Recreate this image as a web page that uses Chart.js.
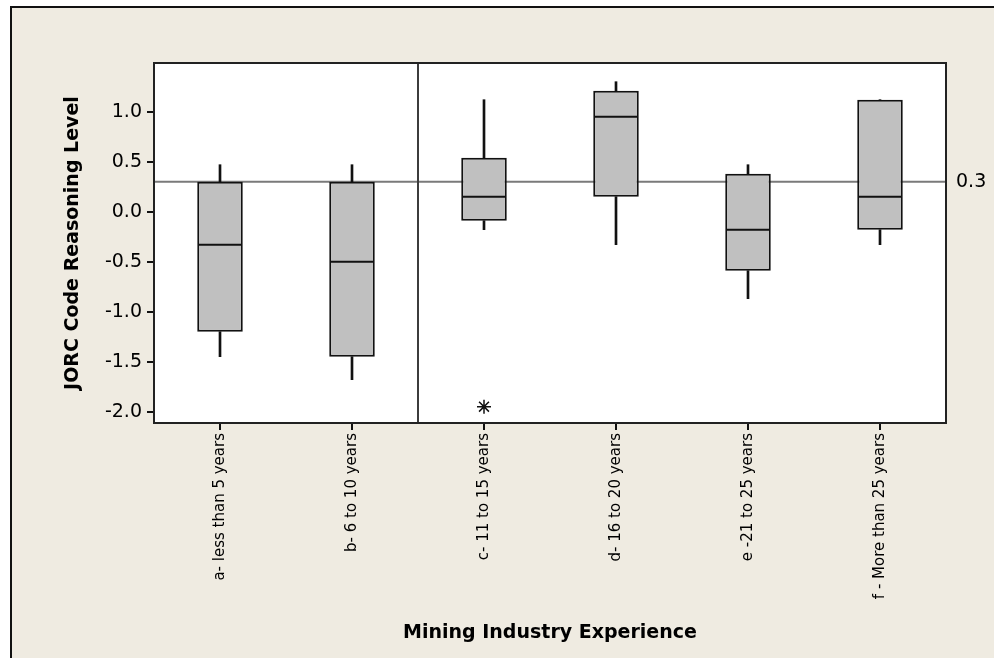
<!DOCTYPE html>
<html>
<head>
<meta charset="utf-8">
<script src="https://cdn.jsdelivr.net/npm/chart.js@4"></script>
<style>
  html, body { margin: 0; padding: 0; background: #ffffff; }
  #frame { position: absolute; left: 10px; top: 6px; width: 984px; height: 652px;
           background: #EFEBE1; border-top: 2px solid #111; border-left: 2px solid #111; box-sizing: border-box; }
  #wrap { position: absolute; left: 0; top: 0; width: 994px; height: 658px; }
</style>
</head>
<body>
<div id="frame"></div>
<div id="wrap"><canvas id="c" width="994" height="658"></canvas></div>
<script>
// ---- data ----
const categories = ['a- less than 5 years', 'b- 6 to 10 years', 'c- 11 to 15 years',
                    'd- 16 to 20 years', 'e -21 to 25 years', 'f - More than 25 years'];
const whiskerLow  = [-1.45, -1.68, -0.18, -0.33, -0.87, -0.33];
const q1Values    = [-1.20, -1.45, -0.09,  0.15, -0.59, -0.18];
const medianValues= [-0.33, -0.50,  0.15,  0.95, -0.18,  0.15];
const q3Values    = [ 0.30,  0.30,  0.54,  1.21,  0.38,  1.12];
const whiskerHigh = [ 0.47,  0.47,  1.12,  1.30,  0.47,  1.12];
const outliers    = [ null,  null, -1.95,  null,  null,  null];
const yTicks      = [-2.0, -1.5, -1.0, -0.5, 0.0, 0.5, 1.0];
const yMin = -2.113, yMax = 1.487;
const refValue = 0.3;
const dividerAfterIndex = 1; // vertical divider between b and c
const xTitle = 'Mining Industry Experience';
const yTitle = 'JORC Code Reasoning Level';

const boxData = q1Values.map((v, i) => [v, q3Values[i]]);
const lowWhisker = whiskerLow.map((v, i) => [v, q1Values[i]]);
const highWhisker = q3Values.map((v, i) => [v, whiskerHigh[i]]);

Chart.defaults.font.family = "'DejaVu Sans', sans-serif";
Chart.defaults.color = '#000';

const decorations = {
  id: 'decorations',
  beforeDraw(chart) {
    const {ctx, chartArea: a} = chart;
    ctx.save();
    ctx.fillStyle = '#ffffff';
    ctx.fillRect(a.left, a.top, a.right - a.left, a.bottom - a.top);
    ctx.restore();
  },
  beforeDatasetsDraw(chart) {
    const {ctx, chartArea: a, scales} = chart;
    const y = scales.y.getPixelForValue(refValue);
    ctx.save();
    ctx.strokeStyle = '#7a7a7a';
    ctx.lineWidth = 2;
    ctx.beginPath(); ctx.moveTo(a.left, y); ctx.lineTo(a.right, y); ctx.stroke();
    const x = (scales.x.getPixelForValue(dividerAfterIndex) + scales.x.getPixelForValue(dividerAfterIndex + 1)) / 2;
    ctx.strokeStyle = '#3c3c3c';
    ctx.beginPath(); ctx.moveTo(x, a.top); ctx.lineTo(x, a.bottom); ctx.stroke();
    ctx.restore();
  },
  afterDraw(chart) {
    const {ctx, chartArea: a, scales} = chart;
    ctx.save();
    ctx.strokeStyle = '#222';
    ctx.lineWidth = 2;
    ctx.strokeRect(a.left, a.top, a.right - a.left, a.bottom - a.top);
    ctx.fillStyle = '#000';
    ctx.font = "19px 'DejaVu Sans'";
    ctx.textAlign = 'left';
    ctx.textBaseline = 'middle';
    ctx.fillText(refValue.toFixed(1), a.right + 10, scales.y.getPixelForValue(refValue));
    ctx.restore();
  }
};

new Chart(document.getElementById('c'), {
  type: 'bar',
  data: {
    labels: categories,
    datasets: [
      { type: 'line', label: 'Median', data: medianValues, showLine: false,
        pointStyle: 'line', pointRadius: 22, pointHoverRadius: 22,
        pointBorderWidth: 2, borderColor: '#111', backgroundColor: '#111' },
      { type: 'line', label: 'Outlier', data: outliers, showLine: false,
        pointStyle: 'star', pointRadius: 7, pointBorderWidth: 1.5,
        borderColor: '#111', backgroundColor: '#111' },
      { label: 'Box', data: boxData, grouped: false,
        backgroundColor: '#C0C0C0', borderColor: '#111', borderWidth: 2,
        borderSkipped: false, categoryPercentage: 1, barPercentage: 0.345 },
      { label: 'Low whisker', data: lowWhisker, grouped: false,
        backgroundColor: '#111', borderWidth: 0, barThickness: 2 },
      { label: 'High whisker', data: highWhisker, grouped: false,
        backgroundColor: '#111', borderWidth: 0, barThickness: 2 }
    ]
  },
  options: {
    responsive: false,
    animation: false,
    layout: { padding: { left: 0, top: 63, right: 48, bottom: 0 } },
    plugins: { legend: { display: false }, tooltip: { enabled: false } },
    scales: {
      x: {
        offset: true,
        grid: { display: true, drawOnChartArea: false, drawTicks: true, tickLength: 7,
                tickColor: '#111', offset: false, lineWidth: 2 },
        border: { display: false },
        ticks: { autoSkip: false, maxRotation: 90, minRotation: 90, padding: 3,
                 font: { size: 15 }, color: '#000' },
        title: { display: true, text: xTitle, font: { size: 19, weight: 'bold' },
                 color: '#000', padding: { top: 0, bottom: 14 } },
        afterFit(scale) { scale.height = 235; }
      },
      y: {
        min: yMin, max: yMax,
        grid: { display: true, drawOnChartArea: false, drawTicks: true, tickLength: 7,
                tickColor: '#111', lineWidth: 2 },
        border: { display: false },
        afterBuildTicks(scale) { scale.ticks = yTicks.map(v => ({ value: v })); },
        ticks: { padding: 5, font: { size: 19 }, color: '#000',
                 callback: v => Number(v).toFixed(1) },
        title: { display: true, text: yTitle, font: { size: 19, weight: 'bold' },
                 color: '#000', padding: { top: 62, bottom: 0 } },
        afterFit(scale) { scale.width = 154; }
      }
    }
  },
  plugins: [decorations]
});
</script>
</body>
</html>
